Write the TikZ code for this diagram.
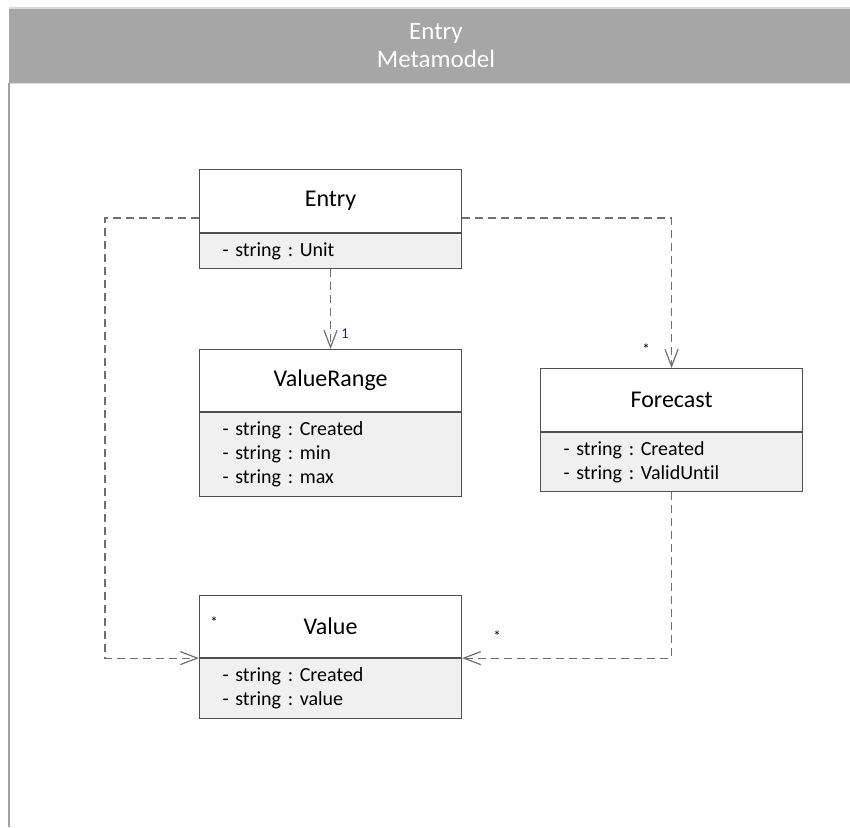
\documentclass[tikz,border=0pt]{standalone}
\usepackage{fontspec}
\setmainfont{Carlito}[Ligatures=NoCommon]
\usetikzlibrary{arrows.meta}
\frenchspacing

\definecolor{headgray}{HTML}{A6A6A6}
\definecolor{headedge}{HTML}{DCDCDC}
\definecolor{framegray}{HTML}{A0A0A0}
\definecolor{boxline}{HTML}{505050}
\definecolor{attrfill}{HTML}{F0F0F0}
\definecolor{linkgray}{HTML}{707070}
\definecolor{multnavy}{HTML}{1F2A7A}

\tikzset{
  titlebox/.style={draw=boxline, line width=1.1pt, fill=white, anchor=north west,
    minimum width=262, inner sep=0pt, font=\fontsize{24}{28}\selectfont},
  attrbox/.style={draw=boxline, line width=1.1pt, fill=attrfill, anchor=north west,
    text width=216, inner xsep=23, inner ysep=0pt, align=left,
    font=\fontsize{20}{24}\selectfont},
  assoc/.style={draw=linkgray, line width=1.2pt, dash pattern=on 8pt off 5pt,
    -{Straight Barb[length=17pt, width=13pt, line width=1.2pt]}},
  mult/.style={inner sep=0pt, font=\fontsize{15}{16}\selectfont},
}

\begin{document}
\begin{tikzpicture}[x=1pt, y=-1pt]
  \useasboundingbox (0,0) rectangle (850,827);
  \fill[white] (0,0) rectangle (850,827);

  % page header band and left frame edge
  \node[fill=headgray, anchor=north west, minimum width=841, minimum height=75, inner sep=0pt] (header) at (9,8) {};
  \draw[headedge, line width=1.5pt] (header.north west) -- (header.north east);
  \draw[headedge, line width=1.5pt] (header.south west) -- (header.south east);
  \draw[framegray, line width=1.3pt] (header.south west) -- (9,827);
  \node[text=white, align=center, font=\fontsize{25}{28}\selectfont] (headtext) at (436,46) {Entry\\Metamodel};

  % classes
  \node[titlebox, minimum height=63] (entryT) at (199,169) {Entry};
  \node[attrbox, minimum height=35] (entryA) at (entryT.south west) {- string : Unit};

  \node[titlebox, minimum height=62] (vrT) at (199,349) {ValueRange};
  \node[attrbox, minimum height=84] (vrA) at (vrT.south west) {- string : Created\\- string : min\\- string : max};

  \node[titlebox, minimum height=63] (fcT) at (540,368) {Forecast};
  \node[attrbox, minimum height=59] (fcA) at (fcT.south west) {- string : Created\\- string : ValidUntil};

  \node[titlebox, minimum height=62] (valueT) at (199,595) {Value};
  \node[attrbox, minimum height=60] (valueA) at (valueT.south west) {- string : Created\\- string : value};

  % associations
  \coordinate (leftrail) at (105,218);
  \draw[assoc] (entryA.south) -- (vrT.north);
  \draw[assoc] (entryT.west |- leftrail) -- (leftrail) |- (valueT.south west);
  \draw[assoc] (entryT.east |- leftrail) -| (fcT.north);
  \draw[assoc] (fcA.south) |- (valueT.south east);

  % multiplicities
  \node[mult, text=multnavy] (m1) at (345,334) {1};
  \node[mult] (m2) at (646,349) {*};
  \node[mult] (m3) at (497,636) {*};
  \node[mult] (m4) at (214,622) {*};
\end{tikzpicture}
\end{document}
